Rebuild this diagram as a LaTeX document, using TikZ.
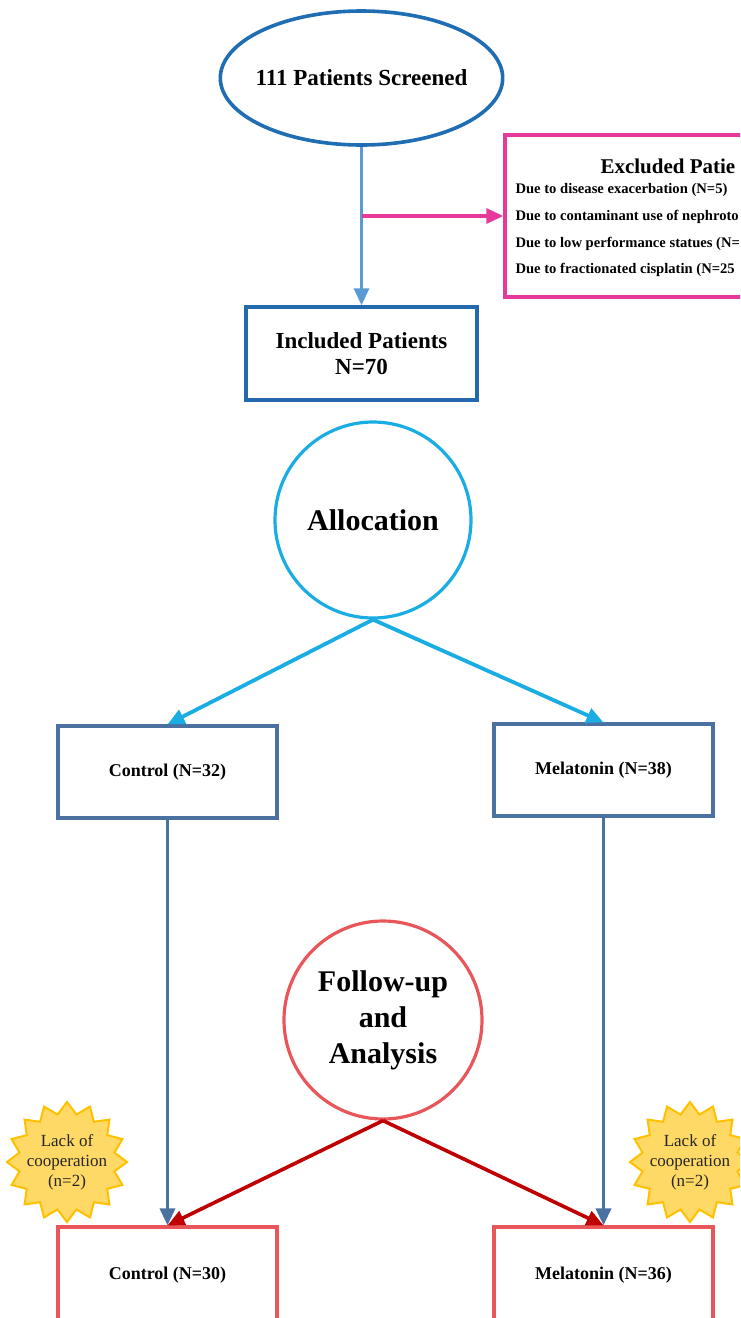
\documentclass[tikz,border=0pt]{standalone}
\usepackage{fontspec}
\setmainfont{Liberation Serif}
\usetikzlibrary{shapes.geometric,arrows.meta,positioning}

\definecolor{screenblue}{HTML}{1F6DB3}
\definecolor{lineblue}{HTML}{5B9BD5}
\definecolor{exclpink}{HTML}{E6399B}
\definecolor{inclblue}{HTML}{2468AE}
\definecolor{alloccyan}{HTML}{1AADE4}
\definecolor{armblue}{HTML}{4A71A0}
\definecolor{followred}{HTML}{E8565A}
\definecolor{darkred}{HTML}{C00000}
\definecolor{lackfill}{HTML}{FFD966}
\definecolor{lackdraw}{HTML}{FFC000}

\begin{document}
\begin{tikzpicture}[x=1pt, y=-1pt, every node/.style={font=\bfseries}]
  \tikzset{
    screen/.style={ellipse, draw=screenblue, line width=3.6pt, inner xsep=-6pt, minimum width=282pt, minimum height=134pt, font=\fontsize{23}{26}\selectfont\bfseries},
    excl/.style={rectangle, draw=exclpink, line width=3.4pt, minimum width=375pt, minimum height=162pt},
    excltext/.style={anchor=base west, font=\fontsize{14.6}{17}\selectfont\bfseries},
    incl/.style={rectangle, draw=inclblue, line width=3.4pt, minimum width=231pt, minimum height=93pt, align=center, font=\fontsize{23}{26}\selectfont\bfseries},
    phase/.style={circle, line width=3.2pt, align=center, font=\fontsize{30}{36}\selectfont\bfseries},
    arm/.style={rectangle, draw=armblue, line width=3.2pt, minimum width=219pt, minimum height=92pt, font=\fontsize{18}{20}\selectfont\bfseries},
    armend/.style={arm, draw=followred, minimum height=96pt},
    lack/.style={star, star points=16, star point ratio=1.24, draw=lackdraw, fill=lackfill, line width=2pt, minimum size=120pt, inner sep=0pt},
    lacktext/.style={align=center, text=black!85, font=\fontsize{17}{20}\selectfont\mdseries},
    tip/.style={-{Triangle[length=17pt, width=15pt]}},
    flow/.style={tip, line width=3.4pt}
  }

  \useasboundingbox (0,0) rectangle (740,1318);
  \clip (0,0) rectangle (740,1318);

  % nodes
  \node[screen] (screen) at (361.5,78) {111 Patients Screened};
  \node[excl] (excl) at (692.5,216) {};
  \node[anchor=base west, font=\fontsize{21}{24}\selectfont\bfseries] (excltitle) at (597,173) {Excluded Patie};
  \node[excltext] (ex1) at (512,193) {Due to disease exacerbation (N=5)};
  \node[excltext] (ex2) at (512,220) {Due to contaminant use of nephroto};
  \node[excltext] (ex3) at (512,247) {Due to low performance statues (N=};
  \node[excltext] (ex4) at (512,273) {Due to fractionated cisplatin (N=25};
  \node[incl] (incl) at (361.5,353.5) {Included Patients\\N=70};

  \node[phase, draw=alloccyan, minimum size=196pt] (alloc) at (373,520) {Allocation};
  \node[arm] (ctrl) at (167.5,772) {Control (N=32)};
  \node[arm] (mel) at (603.5,770) {Melatonin (N=38)};

  \node[phase, draw=followred, minimum size=198pt] (follow) at (383,1020) {Follow-up\\and\\Analysis};
  \node[armend] (ctrlF) at (167.5,1275) {Control (N=30)};
  \node[armend] (melF) at (603.5,1275) {Melatonin (N=36)};

  \foreach \n/\x in {lackL/67, lackR/690} {
    \node[lack] (\n) at (\x,1162) {};
    \node[lacktext] at (\n) {Lack of\\cooperation\\(n=2)};
  }

  % arrows
  \coordinate (split) at (361.5,216);
  \draw[flow, draw=lineblue, fill=lineblue] (screen.south) -- (incl.north);
  \draw[flow, draw=exclpink, fill=exclpink] (split) -- (excl.west);
  \draw[flow, draw=alloccyan, fill=alloccyan, line width=3.8pt] (alloc.south) -- (ctrl.north);
  \draw[flow, draw=alloccyan, fill=alloccyan, line width=3.8pt] (alloc.south) -- (mel.north);
  \draw[flow, draw=armblue, fill=armblue] (ctrl.south) -- (ctrlF.north);
  \draw[flow, draw=armblue, fill=armblue] (mel.south) -- (melF.north);
  \draw[flow, draw=darkred, fill=darkred, line width=3.6pt] (follow.south) -- (ctrlF.north);
  \draw[flow, draw=darkred, fill=darkred, line width=3.6pt] (follow.south) -- (melF.north);
\end{tikzpicture}
\end{document}
